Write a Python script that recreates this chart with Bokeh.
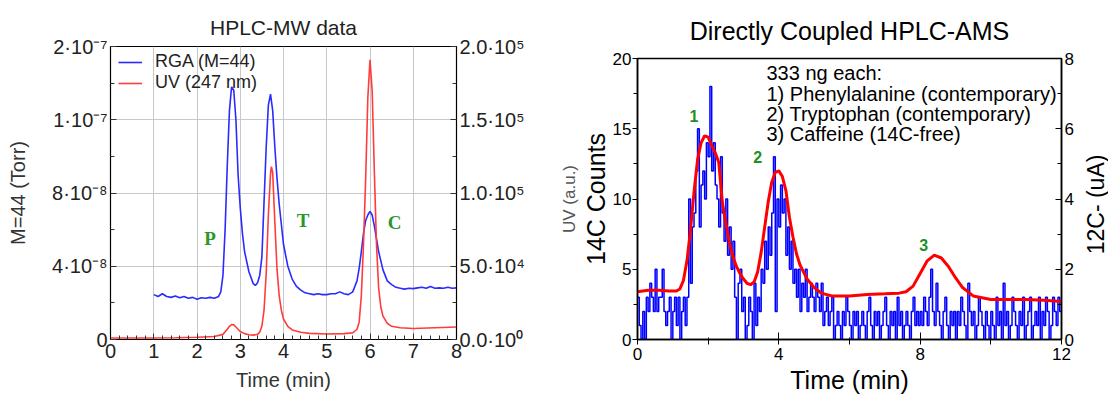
import numpy as np
from bokeh.plotting import figure
from bokeh.models import Range1d, LinearAxis, FixedTicker, SingleIntervalTicker, Legend
from bokeh.layouts import row, column
from bokeh.core.properties import value
from bokeh.embed import file_html
from bokeh.resources import INLINE

FONT = "Liberation Sans"

rga_time = [1.0, 1.1, 1.2, 1.3, 1.4, 1.5, 1.6, 1.7, 1.8, 1.9, 2.0, 2.1, 2.2, 2.3, 2.4, 2.5,
            2.55, 2.6, 2.65, 2.7, 2.75, 2.8, 2.85, 2.9, 2.95, 3.0, 3.05, 3.1,
            3.2, 3.3, 3.35, 3.4, 3.45, 3.5, 3.55, 3.6, 3.65, 3.7, 3.75, 3.8, 3.85, 3.9,
            4.0, 4.1, 4.2, 4.3, 4.4, 4.5, 4.6, 4.7, 4.8, 4.9, 5.0, 5.1, 5.2, 5.3, 5.4, 5.5, 5.6,
            5.7, 5.75, 5.8, 5.85, 5.9, 5.95, 6.0, 6.05, 6.1, 6.15, 6.2,
            6.3, 6.4, 6.5, 6.6, 6.7, 6.8, 6.9, 7.0, 7.1, 7.2, 7.3, 7.4, 7.5, 7.6, 7.7, 7.8, 7.9, 8.0]
rga_e8 = [2.45, 2.35, 2.5, 2.35, 2.3, 2.38, 2.28, 2.35, 2.25, 2.3, 2.2, 2.28, 2.25, 2.3, 2.25, 2.35,
          2.6, 3.5, 6.0, 9.5, 12.5, 13.8, 13.6, 12.0, 9.0, 7.2, 5.8, 4.8,
          3.7, 3.05, 2.95, 3.1, 3.5, 4.5, 7.5, 10.5, 12.8, 13.4, 12.5, 10.5, 8.8, 7.4,
          5.2, 4.0, 3.3, 2.9, 2.7, 2.55, 2.5, 2.45, 2.5, 2.45, 2.45, 2.5, 2.5, 2.6, 2.5, 2.45, 2.6,
          3.2, 3.9, 4.8, 5.8, 6.5, 6.8, 7.0, 6.8, 6.2, 5.5, 4.8,
          3.8, 3.2, 3.0, 2.85, 2.8, 2.75, 2.8, 2.78, 2.82, 2.85, 2.8, 2.9, 2.8, 2.82, 2.8, 2.85, 2.8, 2.82]

uv_time = [0.0, 0.5, 1.0, 1.5, 2.0, 2.4,
           2.6, 2.7, 2.75, 2.8, 2.85, 2.9, 2.95, 3.0,
           3.1, 3.2, 3.3, 3.4, 3.45, 3.5, 3.55, 3.6, 3.65, 3.7, 3.72, 3.75, 3.8, 3.85, 3.9, 3.95, 4.0,
           4.1, 4.2, 4.4, 4.6, 5.0, 5.4, 5.6,
           5.7, 5.75, 5.8, 5.85, 5.9, 5.95, 6.0, 6.05, 6.1, 6.15, 6.2, 6.25, 6.3,
           6.4, 6.5, 6.7, 7.0, 7.5, 8.0]
uv_e4 = [0.1, 0.1, 0.1, 0.12, 0.15, 0.2,
         0.35, 0.7, 0.9, 1.02, 1.0, 0.85, 0.7, 0.55,
         0.4, 0.32, 0.3, 0.35, 0.5, 0.9, 2.0, 4.5, 8.5, 11.3, 11.8, 11.4, 8.0, 4.8, 3.0, 2.0, 1.4,
         0.9, 0.65, 0.5, 0.42, 0.38, 0.4, 0.45,
         0.7, 1.2, 3.0, 6.5, 11.0, 16.5, 19.1, 17.0, 11.5, 6.5, 3.5, 2.2, 1.6,
         1.1, 0.9, 0.8, 0.75, 0.8, 0.85]

peak_letters = ["P", "T", "C"]
peak_letter_time = [2.3, 4.45, 6.57]
peak_letter_e8 = [5.5, 6.5, 6.4]

left_ticks = [0, 4e-8, 8e-8, 1.2e-7, 1.6e-7]
left_tick_labels = ["0", "4·10⁻⁸", "8·10⁻⁸", "1·10⁻⁷", "2·10⁻⁷"]
right_ticks = [0, 5e4, 1e5, 1.5e5, 2e5]
right_tick_labels = ["0.0·10⁰", "5.0·10⁴", "1.0·10⁵", "1.5·10⁵", "2.0·10⁵"]

bin_width = 0.05
c14_counts = (
    [3, 1, 0, 2, 0, 3, 2, 4, 3, 2, 5, 2, 3, 3, 5, 2, 1, 2, 3, 0] +
    [2, 3, 1, 3, 0, 2, 3, 1, 3, 10, 4, 8, 9, 12, 15, 8, 11, 12, 10, 14] +
    [13, 18, 12, 14, 11, 10, 8, 13, 9, 7, 10, 6, 8, 5, 7, 3, 0, 4, 5, 2] +
    [3, 0, 1, 3, 2, 0, 4, 1, 3, 2, 5, 4, 7, 5, 8, 6, 9, 13, 2, 10] +
    [8, 11, 9, 10, 6, 8, 5, 7, 4, 5, 3, 5, 2, 4, 3, 5, 2, 3, 4, 3] +
    [2, 4, 3, 2, 4, 1, 2, 3, 1, 2, 3, 0, 1, 2, 1, 0, 2, 1, 3, 2] +
    [1, 0, 2, 1, 2, 0, 1, 2, 1, 0, 2, 3, 1, 0, 2, 1, 2, 0, 1, 2] +
    [3, 1, 0, 2, 1, 2, 0, 3, 1, 2, 0, 1, 2, 1, 0, 2, 3, 1, 2, 1] +
    [2, 1, 3, 2, 1, 3, 5, 2, 1, 4, 2, 1, 0, 2, 3, 1, 0, 2, 1, 2] +
    [0, 2, 1, 3, 2, 1, 0, 4, 2, 1, 2, 0, 1, 3, 2, 1, 0, 2, 1, 0] +
    [2, 1, 0, 3, 1, 2, 0, 4, 1, 2, 0, 1, 3, 2, 1, 0, 2, 1, 3, 0] +
    [1, 2, 3, 0, 1, 2, 1, 3, 0, 2, 1, 3, 2, 0, 1, 3, 2, 1, 3, 2]
)

ams_uv_time = [0.0, 0.3, 0.6, 0.9, 1.1, 1.2, 1.3, 1.4, 1.5, 1.6, 1.7, 1.8, 1.9, 2.0, 2.1, 2.2, 2.3,
               2.4, 2.5, 2.6, 2.7, 2.8, 2.9, 3.0, 3.1, 3.2, 3.3, 3.4, 3.5, 3.6, 3.7, 3.8, 3.9, 4.0,
               4.1, 4.2, 4.3, 4.4, 4.5, 4.6, 4.8, 5.0, 5.2, 5.5, 6.0, 6.5, 7.0, 7.4, 7.6, 7.8, 8.0,
               8.2, 8.4, 8.6, 8.8, 9.0, 9.2, 9.5, 10.0, 10.5, 11.0, 11.5, 12.0]
ams_uv_signal = [3.4, 3.5, 3.5, 3.45, 3.45, 3.6, 4.2, 5.6, 7.8, 10.5, 12.8, 14.0, 14.5, 14.4, 13.8, 13.3, 12.6,
                 9.8, 8.3, 6.9, 5.9, 5.2, 4.7, 4.3, 4.0, 3.9, 4.1, 4.8, 6.2, 8.0, 9.8, 11.2, 11.9, 12.0,
                 11.6, 10.6, 8.7, 7.3, 6.1, 5.3, 4.3, 3.7, 3.3, 3.1, 3.1, 3.2, 3.25, 3.3, 3.4, 3.8, 4.7,
                 5.6, 6.0, 5.8, 5.2, 4.4, 3.7, 3.1, 2.85, 2.85, 2.85, 2.8, 2.7]

peak_numbers = ["1", "2", "3"]
peak_number_time = [1.6, 3.4, 8.1]
peak_number_counts = [15.9, 13.0, 6.7]

note_lines = ["333 ng each:", "1) Phenylalanine (contemporary)",
              "2) Tryptophan (contemporary)", "3) Caffeine (14C-free)"]
note_time = [3.65, 3.65, 3.65, 3.65]
note_counts = [18.95, 17.5, 16.05, 14.6]

right_axis_title = "12C- (uA)"

# ================= Left figure =================
p1 = figure(width=556, height=396, x_range=Range1d(0, 8), y_range=Range1d(0, 1.6e-7),
            output_backend="svg", toolbar_location=None,
            min_border_left=110, min_border_right=100, min_border_top=46, min_border_bottom=57)
p1.background_fill_color = "white"
p1.border_fill_color = "white"
p1.outline_line_color = "black"
p1.outline_line_width = 1.2
p1.title.text = "HPLC-MW data"
p1.title.align = "center"
p1.title.text_font = FONT
p1.title.text_font_size = "21px"
p1.title.text_font_style = "normal"
p1.title.text_color = "#222222"
p1.title.standoff = 16

p1.extra_y_ranges = {"uv": Range1d(0, 2e5)}
rga_torr = np.array(rga_e8) * 1e-8
uv_abs = np.array(uv_e4) * 1e4
r_rga = p1.line(rga_time, rga_torr, line_color="#2b2bff", line_width=1.6)
r_uv = p1.line(uv_time, uv_abs, y_range_name="uv", line_color="#ff3b3b", line_width=1.6)
p1.text(x=peak_letter_time, y=np.array(peak_letter_e8) * 1e-8, text=peak_letters,
        text_font=value("Liberation Serif"), text_font_style="bold", text_font_size="19px",
        text_color="#2a962a", text_align="center", text_baseline="middle")

xax = p1.xaxis[0]
xax.ticker = SingleIntervalTicker(interval=1, num_minor_ticks=5)
xax.axis_label = "Time (min)"
yax = p1.yaxis[0]
yax.ticker = FixedTicker(ticks=left_ticks, minor_ticks=[2e-8, 6e-8, 1e-7, 1.4e-7])
yax.major_label_overrides = dict(zip(left_ticks, left_tick_labels))
yax.axis_label = "M=44 (Torr)"
rax = LinearAxis(y_range_name="uv")
rax.ticker = FixedTicker(ticks=right_ticks, minor_ticks=[2.5e4, 7.5e4, 1.25e5, 1.75e5])
rax.major_label_overrides = dict(zip(right_ticks, right_tick_labels))
p1.add_layout(rax, "right")
for ax in (xax, yax, rax):
    ax.major_label_text_font = FONT
    ax.major_label_text_font_size = "20px"
    ax.major_label_text_color = "#222222"
    ax.axis_label_text_font = FONT
    ax.axis_label_text_font_size = "20px"
    ax.axis_label_text_font_style = "normal"
    ax.axis_label_text_color = "#333333"
    ax.axis_line_color = "black"
    ax.major_tick_in = 6
    ax.major_tick_out = 0
    ax.minor_tick_in = 4
    ax.minor_tick_out = 0
    ax.major_tick_line_color = "#333333"
    ax.minor_tick_line_color = "#333333"
    ax.major_label_standoff = 3
    ax.axis_label_standoff = 4
yax.axis_label_standoff = 20
xax.major_label_standoff = 4
xax.axis_label_standoff = 8
p1.xgrid.ticker = SingleIntervalTicker(interval=1)
p1.xgrid.grid_line_color = "#c8c8c8"
p1.ygrid.grid_line_color = "#c8c8c8"


def make_legend(label, renderer, loc):
    lg = Legend(items=[(label, [renderer])], location=loc)
    lg.background_fill_alpha = 0
    lg.border_line_alpha = 0
    lg.label_text_font = FONT
    lg.label_text_font_size = "18px"
    lg.label_text_color = "#222222"
    lg.glyph_width = 24
    lg.glyph_height = 16
    lg.label_height = 16
    lg.padding = 0
    lg.margin = 0
    lg.label_standoff = 13
    return lg


p1.add_layout(make_legend("RGA (M=44)", r_rga, (8, 267)))
p1.add_layout(make_legend("UV (247 nm)", r_uv, (8, 246)))

# ================= Right figure =================
p2 = figure(width=524, height=396, x_range=Range1d(0, 12), y_range=Range1d(0, 20),
            output_backend="svg", toolbar_location=None,
            min_border_left=78, min_border_right=19, min_border_top=57, min_border_bottom=54)
p2.background_fill_color = "white"
p2.border_fill_color = "white"
p2.outline_line_color = "black"
p2.outline_line_width = 1.5
p2.grid.visible = False
p2.title.text = "Directly Coupled HPLC-AMS"
p2.title.align = "center"
p2.title.text_font = FONT
p2.title.text_font_size = "25px"
p2.title.text_font_style = "normal"
p2.title.text_color = "black"
p2.title.standoff = 28
p2.extra_y_ranges = {"c12": Range1d(0, 8)}
bin_start = np.arange(len(c14_counts)) * bin_width
step_x = list(bin_start) + [len(c14_counts) * bin_width]
step_y = list(c14_counts) + [c14_counts[-1]]
p2.step(step_x, step_y, mode="after", line_color="#0000ff", line_width=1.5)
p2.line(ams_uv_time, ams_uv_signal, line_color="#ff0000", line_width=3)
p2.text(x=peak_number_time, y=peak_number_counts, text=peak_numbers,
        text_font=value(FONT), text_font_style="bold", text_font_size="16px",
        text_color="#1f8f1f", text_align="center", text_baseline="middle")
p2.text(x=note_time, y=note_counts, text=note_lines,
        text_font=value(FONT), text_font_size="20px", text_color="black",
        text_align="left", text_baseline="middle")
bx = p2.xaxis[0]
bx.ticker = SingleIntervalTicker(interval=4, num_minor_ticks=2)
bx.axis_label = "Time (min)"
bx.axis_label_text_font_size = "25px"
bx.major_tick_in = 7
bx.major_tick_out = 0
bx.minor_tick_in = 2
bx.minor_tick_out = 5
ly = p2.yaxis[0]
ly.ticker = SingleIntervalTicker(interval=5, num_minor_ticks=2)
ly.axis_label = "14C Counts"
ly.axis_label_text_font_size = "25px"
ly.major_tick_in = 0
ly.major_tick_out = 5
ly.minor_tick_in = 0
ly.minor_tick_out = 4
ry = LinearAxis(y_range_name="c12")
ry.ticker = SingleIntervalTicker(interval=2, num_minor_ticks=2)
ry.major_tick_in = 6
ry.major_tick_out = 0
ry.minor_tick_in = 4
ry.minor_tick_out = 0
p2.add_layout(ry, "right")
for ax in (bx, ly, ry):
    ax.major_label_text_font = FONT
    ax.major_label_text_font_size = "17px"
    ax.major_label_text_color = "black"
    ax.axis_label_text_font = FONT
    ax.axis_label_text_font_style = "normal"
    ax.axis_label_text_color = "black"
    ax.axis_line_color = "black"
    ax.axis_line_width = 1.5
    ax.major_tick_line_color = "black"
    ax.minor_tick_line_color = "black"
    ax.major_label_standoff = 3
    ax.axis_label_standoff = 3
ly.major_label_standoff = 1
ly.axis_label_standoff = 0
uvax = LinearAxis(axis_label="UV (a.u.)", ticker=FixedTicker(ticks=[]))
uvax.axis_label_text_font = FONT
uvax.axis_label_text_font_size = "17px"
uvax.axis_label_text_font_style = "normal"
uvax.axis_label_text_color = "#555555"
uvax.axis_label_standoff = 0
uvax.major_label_standoff = 0
uvax.major_tick_out = 0
uvax.major_tick_in = 0
uvax.major_tick_line_color = None
uvax.minor_tick_line_color = None
uvax.axis_line_color = None
p2.add_layout(uvax, "left")

# ================= Narrow strip holding the right-axis title =================
p3 = figure(width=28, height=396, x_range=Range1d(0, 1), y_range=Range1d(0, 1),
            output_backend="svg", toolbar_location=None,
            min_border=0, min_border_left=0, min_border_right=0, min_border_top=0, min_border_bottom=0)
p3.axis.visible = False
p3.grid.visible = False
p3.outline_line_color = None
p3.background_fill_color = "white"
p3.border_fill_color = "white"
p3.text(x=[0.57], y=[0.485], text=[right_axis_title], angle=np.pi / 2,
        text_font=value(FONT), text_font_size="23px", text_color="black",
        text_align="center", text_baseline="middle")

layout = row(column(p1), column(p2), column(p3))
open("out.html", "w").write(file_html(layout, INLINE))
